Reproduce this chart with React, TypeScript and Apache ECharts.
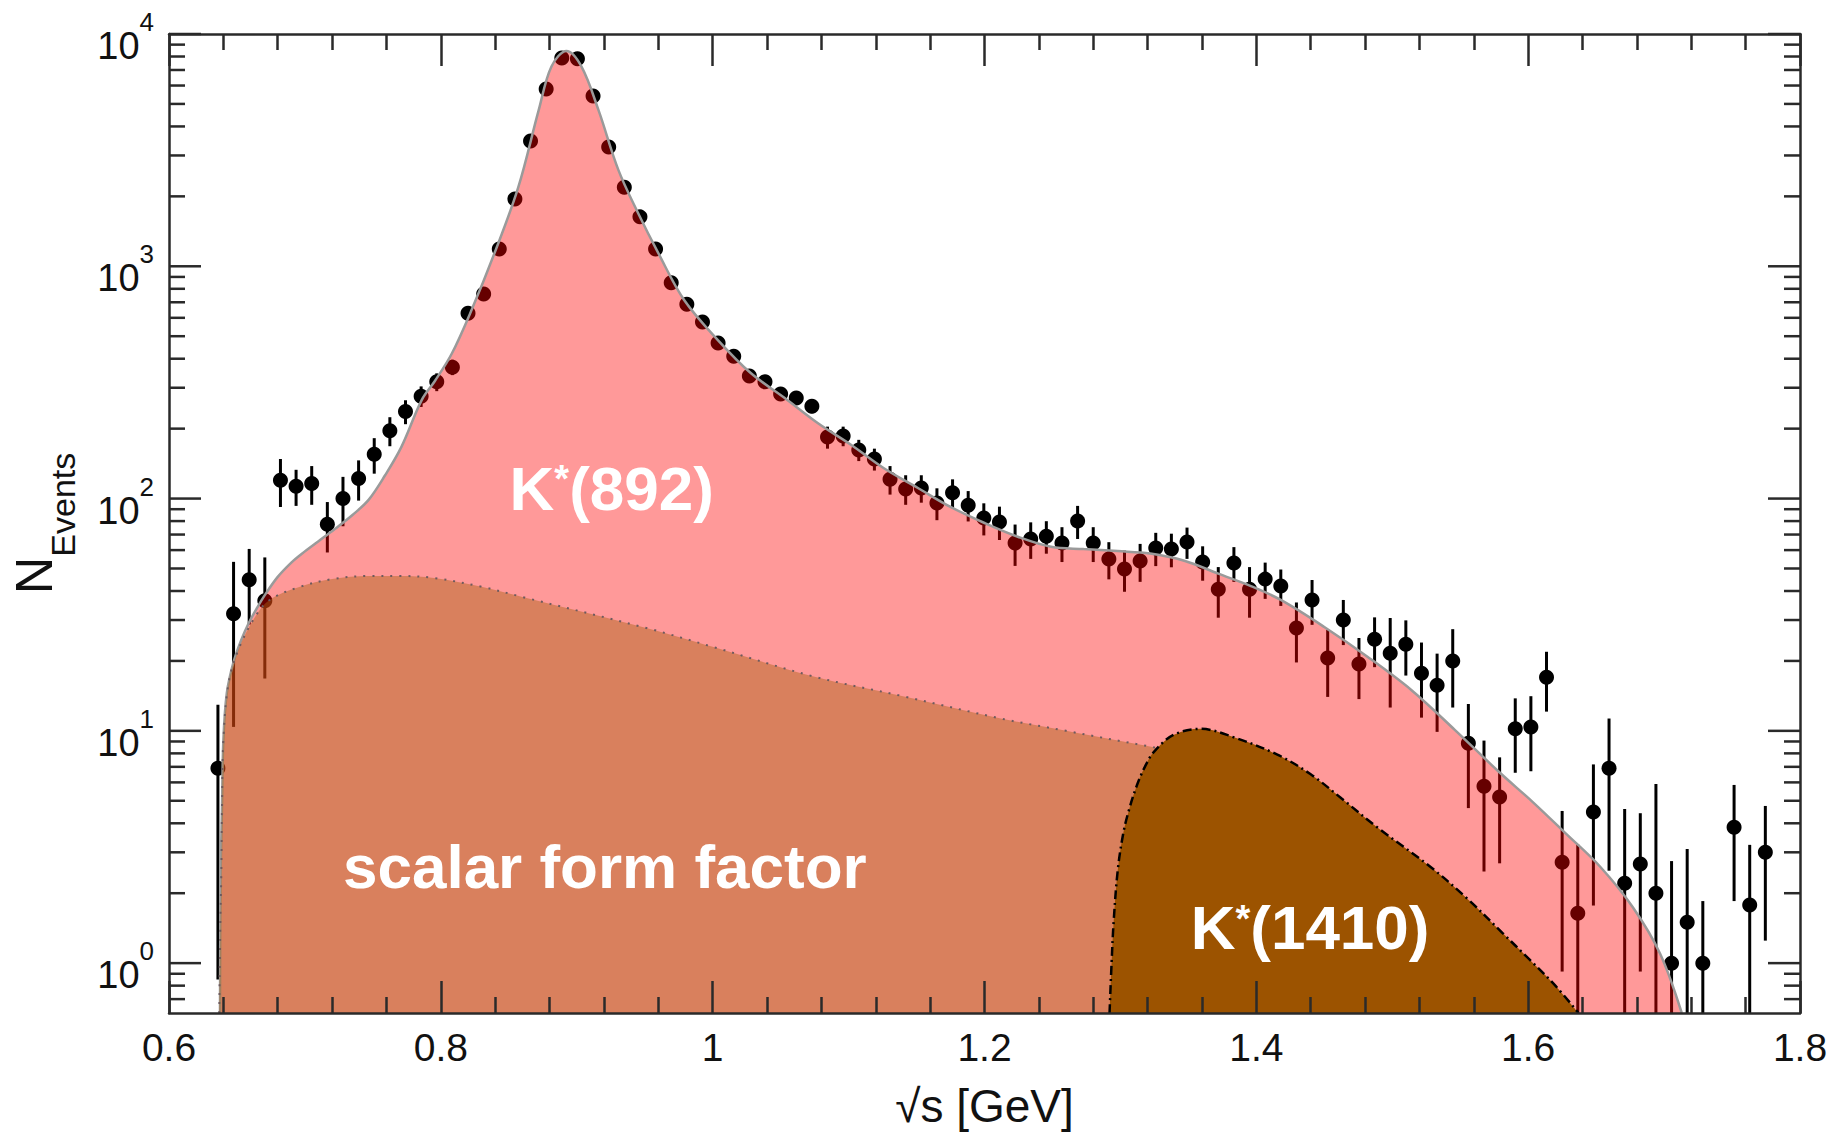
import React, { useEffect, useRef } from 'react';
import * as echarts from 'echarts';

// ---- measured data (bin centres in GeV, events, symmetric error) ----
const binCenters = [
  0.636, 0.6475, 0.659, 0.6705, 0.682, 0.6935, 0.705, 0.7165, 0.728, 0.7395,
  0.751, 0.7625, 0.774, 0.7855, 0.797, 0.8085, 0.82, 0.8315, 0.843, 0.8545,
  0.866, 0.8775, 0.889, 0.9005, 0.912, 0.9235, 0.935, 0.9465, 0.958, 0.9695,
  0.981, 0.9925, 1.004, 1.0155, 1.027, 1.0385, 1.05, 1.0615, 1.073, 1.0845,
  1.096, 1.1075, 1.119, 1.1305, 1.142, 1.1535, 1.165, 1.1765, 1.188, 1.1995,
  1.211, 1.2225, 1.234, 1.2455, 1.257, 1.2685, 1.28, 1.2915, 1.303, 1.3145,
  1.326, 1.3375, 1.349, 1.3605, 1.372, 1.3835, 1.395, 1.4065, 1.418, 1.4295,
  1.441, 1.4525, 1.464, 1.4755, 1.487, 1.4985, 1.51, 1.5215, 1.533, 1.5445,
  1.556, 1.5675, 1.579, 1.5905, 1.602, 1.6135, 1.625, 1.6365, 1.648, 1.6595,
  1.671, 1.6825, 1.694, 1.7055, 1.717, 1.7285, 1.7515, 1.763, 1.7745,
];
const events = [
  6.9, 31.9, 44.7, 36.3, 120, 113, 116, 77.6, 100, 122,
  155, 196, 237, 276, 318, 368, 628, 760, 1187, 1950,
  3460, 5800, 7890, 7830, 5410, 3265, 2190, 1632, 1187, 850,
  687, 575, 468, 410, 337, 318, 282, 271, 250, 184,
  186, 162, 148, 121, 110, 111, 95.7, 106, 93.7, 82.4,
  79.3, 64.3, 67, 68.9, 64.3, 80, 64.3, 54.9, 49.7, 53.8,
  61.2, 60.6, 65, 53.3, 40.7, 52.8, 40.7, 45, 42, 27.7,
  36.6, 20.6, 30, 19.4, 24.8, 21.6, 23.6, 17.7, 15.7, 20,
  8.85, 5.78, 5.19, 10.2, 10.4, 17, 2.72, 1.64, 4.47, 6.9,
  2.21, 2.67, 2.0, 1.0, 1.5, 1.0, 3.85, 1.78, 3.0,
];
const errors = [
  6.05, 21.5, 16, 19.5, 28, 20, 22, 19, 24, 24,
  27, 28, 28, 28, 28, 28, 32, 35, 40, 50,
  65, 80, 90, 90, 75, 60, 50, 42, 36, 30,
  28, 25, 23, 21, 19, 18, 17, 17, 17, 20,
  18, 17, 16, 17, 16, 15, 15, 15, 14, 13,
  13, 13, 12, 11, 11, 13, 11, 10, 10, 10,
  10, 10, 10, 9, 10, 9, 10, 8, 7.5, 8,
  8, 6.6, 6.6, 5.7, 6, 9, 6.3, 6.3, 5.8, 7.4,
  4.2, 3.3, 2.5, 3.6, 3.7, 4.9, 1.8, 1.6, 2.7, 4.4,
  2.4, 1.75, 3.9, 1.75, 1.6, 0.85, 2, 1.45, 1.75,
];

// ---- fitted curves ----
const totalX = [
  0.6375, 0.638, 0.639, 0.64, 0.6425, 0.6475, 0.653, 0.6585, 0.665, 0.6706,
  0.68, 0.69, 0.698, 0.71, 0.722, 0.735, 0.747, 0.759, 0.771, 0.786,
  0.7955, 0.808, 0.8226, 0.8395, 0.857, 0.872, 0.8814, 0.8924, 0.9034, 0.916,
  0.9306, 0.945, 0.96, 0.979, 1.004, 1.028, 1.053, 1.0775, 1.102, 1.126,
  1.151, 1.175, 1.2, 1.2245, 1.249, 1.273, 1.298, 1.322, 1.347, 1.372,
  1.396, 1.418, 1.45, 1.482, 1.514, 1.546, 1.578, 1.604, 1.628, 1.653,
  1.677, 1.697, 1.713,
];
const totalY = [
  0.61, 2.4, 4.7, 9.1, 14.5, 19.8, 24.5, 29, 34, 38.5,
  46, 53, 58, 65.5, 74, 85, 99, 126, 167, 266,
  320, 420, 648, 1140, 2190, 4700, 7250, 8450, 7250, 4700,
  2600, 1700, 1140, 716, 480, 347, 271, 211, 170, 135,
  111, 92, 78.5, 68.5, 62, 60.6, 59.4, 58, 54, 47.5,
  42, 36.6, 28, 20.8, 15, 10.1, 6.7, 4.9, 3.6, 2.6,
  1.74, 1.1, 0.61,
];
const scalarX = [
  0.637, 0.6378, 0.6385, 0.639, 0.64, 0.6438, 0.651, 0.6633, 0.674, 0.6953,
  0.72, 0.747, 0.77, 0.795, 0.83, 0.86, 0.9525, 1.0, 1.075, 1.14,
  1.212, 1.26, 1.3245, 1.33,
];
const scalarY = [
  0.61, 1.5, 2.44, 4.7, 9.1, 16, 22.3, 30.9, 36.6, 41.5,
  45, 46.4, 46.4, 45.5, 41.7, 37.7, 27.6, 23, 17.1, 14.1,
  11.3, 10.0, 8.5, 8.4,
];
const k1410X = [
  1.292, 1.2935, 1.295, 1.298, 1.302, 1.306, 1.312, 1.318, 1.3245, 1.339,
  1.359, 1.383, 1.4155, 1.44, 1.463, 1.49, 1.528, 1.555, 1.581, 1.6,
  1.62, 1.637,
];
const k1410Y = [
  0.61, 1.0, 1.5, 2.5, 3.6, 4.5, 5.8, 7.0, 8.1, 9.6,
  10.2, 9.4, 7.9, 6.5, 5.1, 3.8, 2.6, 1.9, 1.35, 1.05,
  0.8, 0.61,
];

// ---- axes ----
const X_MIN = 0.6;
const X_MAX = 1.8;
const X_STEP = 0.2;
const Y_MIN = 0.61;
const Y_MAX = 10000;
const yMajorTicks = [1, 10, 100, 1000, 10000];
const yMinorTicks = [
  0.7, 0.8, 0.9,
  2, 3, 4, 5, 6, 7, 8, 9,
  20, 30, 40, 50, 60, 70, 80, 90,
  200, 300, 400, 500, 600, 700, 800, 900,
  2000, 3000, 4000, 5000, 6000, 7000, 8000, 9000,
];

// ---- in-plot labels (data coordinates) ----
const annoText = ['{k|K}{s|*}{k|(892)}', '{k|scalar form factor}', '{k|K}{s|*}{k|(1410)}'];
const annoX = [0.8506, 0.728, 1.3517];
const annoY = [111, 2.6, 1.42];

const FONT = 'Liberation Sans, Arial, Helvetica, sans-serif';
const AXIS_COLOR = '#2a2a2a';

export default function App() {
  const ref = useRef<HTMLDivElement>(null);

  useEffect(() => {
    if (!ref.current) return;
    const chart = echarts.init(ref.current, undefined, { renderer: 'svg' });

    const dataPts = binCenters.map((x, i) => [x, events[i], errors[i]]);
    const total = totalX.map((x, i) => [x, totalY[i]]);
    const scalar = scalarX.map((x, i) => [x, scalarY[i]]);
    const k1410 = k1410X.map((x, i) => [x, k1410Y[i]]);
    const yTicks = [
      ...yMajorTicks.map((v) => [X_MIN, v, 1]),
      ...yMinorTicks.map((v) => [X_MIN, v, 0]),
    ];

    const xAxisCommon = {
      type: 'value',
      min: X_MIN,
      max: X_MAX,
      interval: X_STEP,
      z: 10,
      splitLine: { show: false },
      axisLine: { show: true, lineStyle: { color: AXIS_COLOR, width: 2.5 } },
      axisTick: { show: true, inside: true, length: 32, lineStyle: { color: AXIS_COLOR, width: 2.5 } },
      minorTick: { show: true, splitNumber: 5, length: 16, lineStyle: { color: AXIS_COLOR, width: 2.5 } },
    };

    const option = {
      animation: false,
      backgroundColor: '#ffffff',
      grid: { left: 167, right: 33, top: 34, bottom: 128, containLabel: false },
      xAxis: [
        {
          ...xAxisCommon,
          position: 'bottom',
          name: '√s [GeV]',
          nameLocation: 'middle',
          nameGap: 70,
          nameTextStyle: { fontSize: 46, fontFamily: FONT, color: '#111', lineHeight: 46 },
          axisLabel: {
            show: true,
            margin: 15,
            fontSize: 39,
            lineHeight: 39,
            fontFamily: FONT,
            color: '#111',
          },
        },
        {
          ...xAxisCommon,
          position: 'top',
          axisLabel: { show: false },
        },
      ],
      yAxis: [
        {
          type: 'log',
          logBase: 10,
          min: Y_MIN,
          max: Y_MAX,
          z: 10,
          position: 'left',
          splitLine: { show: false },
          axisTick: { show: false },
          axisLine: { show: true, lineStyle: { color: AXIS_COLOR, width: 2.5 } },
          axisLabel: {
            show: true,
            margin: 15,
            formatter: (v: number) => {
              const k = Math.round(Math.log10(v));
              if (Math.abs(Math.log10(v) - k) > 1e-6) return '';
              return '{b|10}{s|' + k + '}';
            },
            rich: {
              b: { fontSize: 38, height: 38, lineHeight: 38, verticalAlign: 'bottom', fontFamily: FONT, color: '#111' },
              s: { fontSize: 26, height: 38, lineHeight: 62, verticalAlign: 'top', fontFamily: FONT, color: '#111' },
            },
          },
          name: '{n|N}{e|Events}',
          nameLocation: 'middle',
          nameRotate: 90,
          nameGap: 89,
          nameTextStyle: {
            rich: {
              n: { fontSize: 52, height: 52, lineHeight: 72, verticalAlign: 'top', fontFamily: FONT, color: '#111' },
              e: { fontSize: 34, height: 34, lineHeight: 34, verticalAlign: 'bottom', fontFamily: FONT, color: '#111' },
            },
          },
        },
        {
          type: 'log',
          logBase: 10,
          min: Y_MIN,
          max: Y_MAX,
          z: 10,
          position: 'right',
          splitLine: { show: false },
          axisTick: { show: false },
          axisLabel: { show: false },
          axisLine: { show: true, lineStyle: { color: AXIS_COLOR, width: 2.5 } },
        },
      ],
      series: [
        {
          name: 'errors',
          type: 'custom',
          z: 2,
          clip: true,
          silent: true,
          data: dataPts,
          encode: { x: 0, y: 1 },
          renderItem: (params: any, api: any) => {
            const x = api.value(0);
            const y = api.value(1);
            const e = api.value(2);
            const top = api.coord([x, y + e]);
            const bot = api.coord([x, Math.max(y - e, 0.3)]);
            return {
              type: 'line',
              shape: { x1: top[0], y1: top[1], x2: bot[0], y2: bot[1] },
              style: { stroke: '#000', lineWidth: 3 },
            };
          },
        },
        {
          name: 'data',
          type: 'scatter',
          z: 3,
          silent: true,
          symbol: 'circle',
          symbolSize: 15,
          itemStyle: { color: '#000', opacity: 1 },
          data: dataPts.map((d) => [d[0], d[1]]),
        },
        {
          name: 'total',
          type: 'line',
          z: 4,
          smooth: 0.35,
          showSymbol: false,
          silent: true,
          data: total,
          lineStyle: { color: '#9a9a9a', width: 2.5 },
          areaStyle: { color: 'rgba(255,0,0,0.4)', origin: 'start', opacity: 1 },
        },
        {
          name: 'scalar',
          type: 'line',
          z: 5,
          smooth: 0.35,
          showSymbol: false,
          silent: true,
          data: scalar,
          lineStyle: { color: '#6e5a5e', width: 2, type: [2, 7] },
          areaStyle: { color: 'rgba(171,97,20,0.45)', origin: 'start', opacity: 1 },
        },
        {
          name: 'K1410',
          type: 'line',
          z: 6,
          smooth: 0.35,
          showSymbol: false,
          silent: true,
          data: k1410,
          lineStyle: { color: '#000', width: 2.5, type: [9, 4, 2, 4] },
          areaStyle: { color: '#9c5300', origin: 'start', opacity: 1 },
        },
        {
          name: 'labels',
          type: 'scatter',
          z: 7,
          silent: true,
          symbolSize: 0,
          itemStyle: { opacity: 1 },
          data: annoX.map((x, i) => ({
            value: [x, annoY[i]],
            label: {
              show: true,
              position: [0, 0],
              align: 'left',
              verticalAlign: 'middle',
              opacity: 1,
              formatter: annoText[i],
              rich: {
                k: { fontSize: 62, height: 62, lineHeight: 62, fontWeight: 'bold', color: '#ffffff', fontFamily: FONT, verticalAlign: 'middle' },
                s: { fontSize: 38, height: 44, lineHeight: 44, fontWeight: 'bold', color: '#ffffff', fontFamily: FONT, verticalAlign: 'top' },
              },
            },
          })),
        },
        {
          name: 'yticks',
          type: 'custom',
          z: 10,
          silent: true,
          data: yTicks,
          encode: { x: 0, y: 1 },
          renderItem: (params: any, api: any) => {
            const v = api.value(1);
            const major = api.value(2) === 1;
            const p = api.coord([X_MIN, v]);
            const cs = params.coordSys;
            const len = major ? 32 : 16;
            const st = { stroke: AXIS_COLOR, lineWidth: 2.5 };
            return {
              type: 'group',
              children: [
                { type: 'line', shape: { x1: cs.x, y1: p[1], x2: cs.x + len, y2: p[1] }, style: st },
                { type: 'line', shape: { x1: cs.x + cs.width, y1: p[1], x2: cs.x + cs.width - len, y2: p[1] }, style: st },
              ],
            };
          },
        },
      ],
    };

    chart.setOption(option as any);
    return () => chart.dispose();
  }, []);

  return (
    <div
      ref={ref}
      style={{ position: 'fixed', left: 0, top: 0, width: 1833, height: 1141, background: '#fff' }}
    />
  );
}
